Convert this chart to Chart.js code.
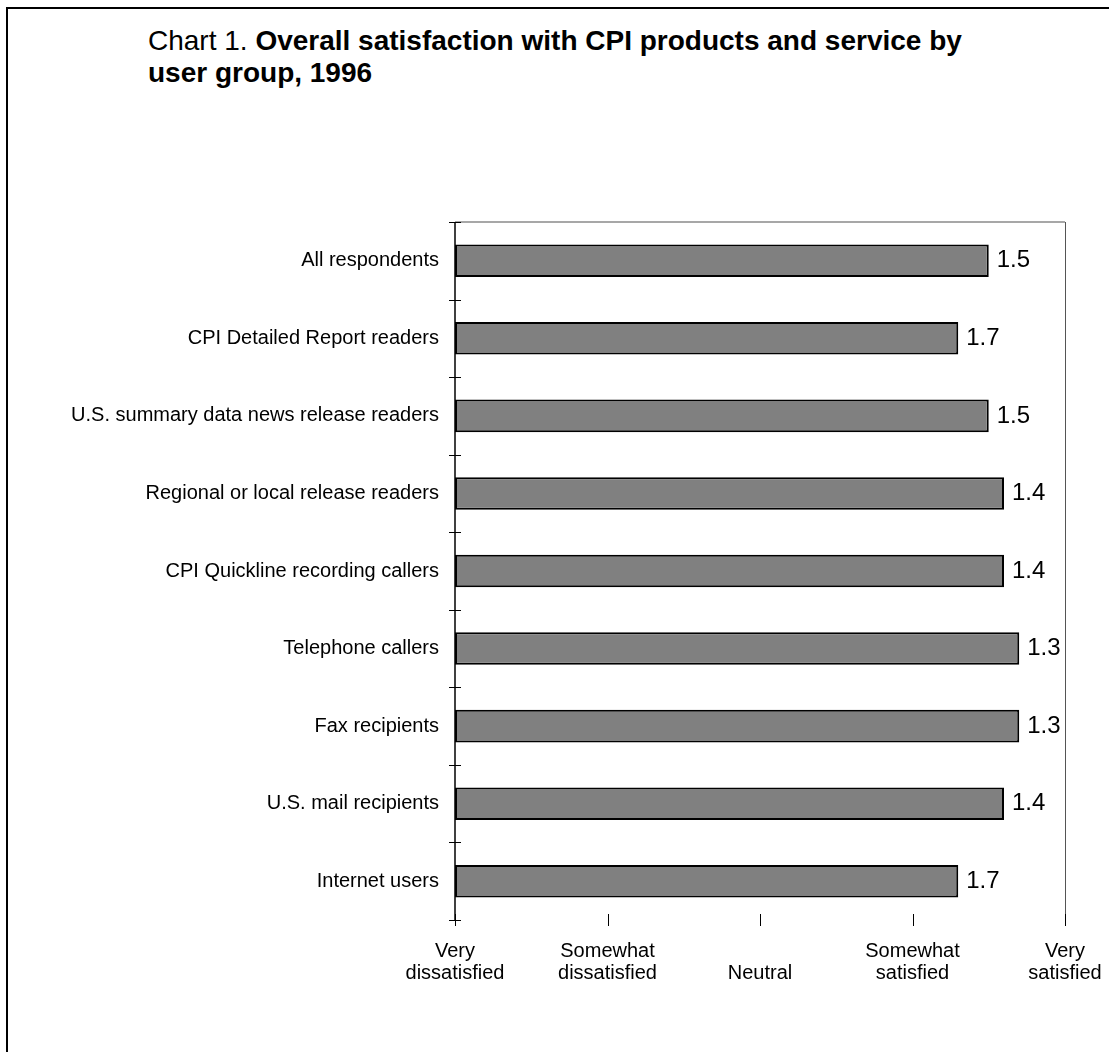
<!DOCTYPE html>
<html>
<head>
<meta charset="utf-8">
<script src="https://cdn.jsdelivr.net/npm/chart.js@4"></script>
<style>
  html, body { margin: 0; padding: 0; background: #fff; }
  #wrap { position: relative; width: 1109px; height: 1052px; overflow: hidden; }
  #frame { position: absolute; left: 6px; top: 7px; width: 1200px; height: 1200px;
           border-left: 2px solid #000; border-top: 2px solid #000; }
  #title { position: absolute; left: 148px; top: 25px; width: 950px;
           font-family: "Liberation Sans", Arial, sans-serif; font-size: 28px; line-height: 32px; color: #000; }
  #title b { font-weight: bold; }
  canvas { position: absolute; left: 0; top: 0; }
</style>
</head>
<body>
<div id="wrap">
  <div id="frame"></div>
  <div id="title">Chart 1. <b>Overall satisfaction with CPI products and service by<br>user group, 1996</b></div>
  <canvas id="chart" width="1109" height="1052"></canvas>
</div>
<script>
// data (1 = very satisfied, 5 = very dissatisfied)
const groups = [
    'All respondents',
    'CPI Detailed Report readers',
    'U.S. summary data news release readers',
    'Regional or local release readers',
    'CPI Quickline recording callers',
    'Telephone callers',
    'Fax recipients',
    'U.S. mail recipients',
    'Internet users'
];
const scores = [1.5, 1.7, 1.5, 1.4, 1.4, 1.3, 1.3, 1.4, 1.7];
const scaleValues = [1, 2, 3, 4, 5];
const scaleLabels = [
    ['Very', 'satisfied'],
    ['Somewhat', 'satisfied'],
    ['', 'Neutral'],
    ['Somewhat', 'dissatisfied'],
    ['Very', 'dissatisfied']
];

const FONT = '"Liberation Sans", Arial, sans-serif';

// tick marks that cross the axis + plot frame + value labels
const framePlugin = {
    id: 'frame',
    afterDraw(chart) {
        const ctx = chart.ctx;
        const a = chart.chartArea;
        const xs = chart.scales.x, ys = chart.scales.y;
        ctx.save();
        // top and right border
        ctx.strokeStyle = '#8a8a8a';
        ctx.lineWidth = 1.5;
        ctx.beginPath();
        ctx.moveTo(a.left, a.top); ctx.lineTo(a.right, a.top);
        ctx.stroke();
        ctx.strokeStyle = '#555';
        ctx.lineWidth = 1;
        ctx.beginPath();
        ctx.moveTo(a.right + 0.5, a.top); ctx.lineTo(a.right + 0.5, a.bottom);
        ctx.stroke();
        // left axis
        ctx.strokeStyle = '#000';
        ctx.lineWidth = 1.5;
        ctx.beginPath();
        ctx.moveTo(a.left, a.top); ctx.lineTo(a.left, a.bottom);
        ctx.stroke();
        // y tick marks between categories
        ctx.lineWidth = 1;
        for (let i = 0; i <= groups.length; i++) {
            const y = Math.round(ys.getPixelForValue(i - 0.5)) + 0.5;
            ctx.beginPath();
            ctx.moveTo(a.left - 6, y); ctx.lineTo(a.left + 6, y);
            ctx.stroke();
        }
        // x tick marks
        scaleValues.forEach(v => {
            const x = Math.round(xs.getPixelForValue(v)) + 0.5;
            ctx.beginPath();
            ctx.moveTo(x, a.bottom - 6); ctx.lineTo(x, a.bottom + 6);
            ctx.stroke();
        });
        // value labels
        ctx.fillStyle = '#000';
        ctx.font = '24px ' + FONT;
        ctx.textAlign = 'left';
        ctx.textBaseline = 'middle';
        chart.getDatasetMeta(0).data.forEach((bar, i) => {
            const end = Math.max(bar.x, bar.base);
            ctx.fillText(scores[i].toFixed(1), end + 8, bar.y);
        });
        ctx.restore();
    }
};

new Chart(document.getElementById('chart'), {
    type: 'bar',
    data: {
        labels: groups,
        datasets: [{
            data: scores.map(v => [5, v]),
            backgroundColor: '#808080',
            borderColor: '#000',
            borderWidth: 2,
            borderSkipped: false,
            categoryPercentage: 1,
            barPercentage: 0.42
        }]
    },
    options: {
        indexAxis: 'y',
        responsive: false,
        animation: false,
        layout: { padding: { left: 0, right: 44, top: 222, bottom: 0 } },
        plugins: { legend: { display: false }, tooltip: { enabled: false } },
        scales: {
            x: {
                type: 'linear',
                min: 1, max: 5,
                reverse: true,
                afterBuildTicks(scale) { scale.ticks = scaleValues.map(v => ({ value: v })); },
                afterFit(scale) { scale.height = 132; },
                border: { display: false },
                grid: { display: false },
                ticks: {
                    padding: 12,
                    color: '#000',
                    font: { family: FONT, size: 20, lineHeight: 1.1 },
                    maxRotation: 0,
                    callback: (v) => scaleLabels[scaleValues.indexOf(v)]
                }
            },
            y: {
                afterFit(scale) { scale.width = 455; },
                border: { display: false },
                grid: { display: false },
                ticks: {
                    padding: 8,
                    color: '#000',
                    font: { family: FONT, size: 20 }
                }
            }
        }
    },
    plugins: [framePlugin]
});
</script>
</body>
</html>
